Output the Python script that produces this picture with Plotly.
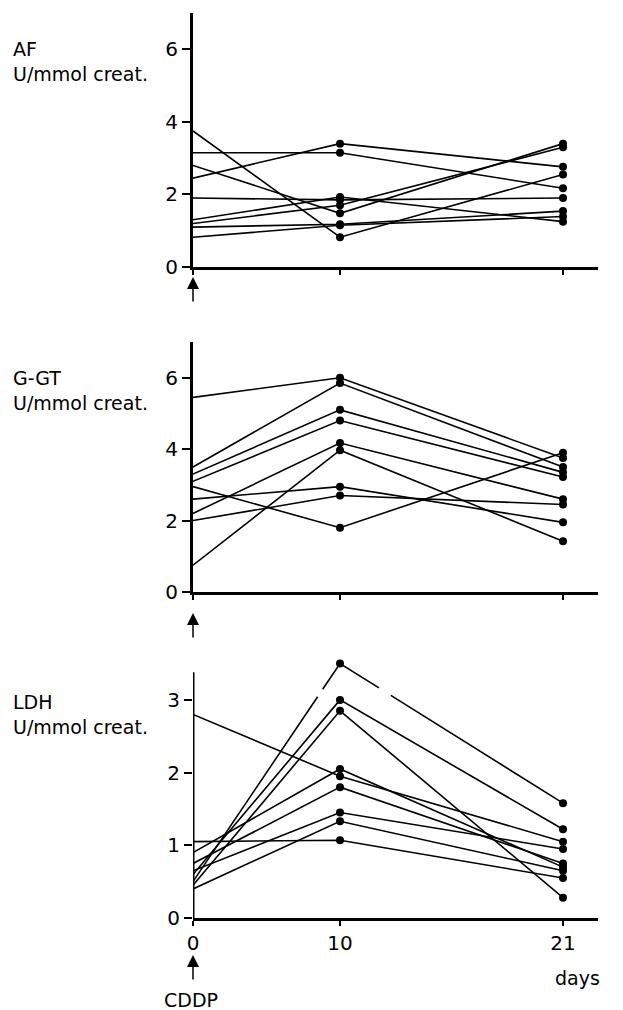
import plotly.graph_objects as go

# ---------------- data ----------------
DAYS = [0, 10, 21]
DAY_TICKS = ["0", "10", "21"]

# AF (U/mmol creat.) per patient at day 0, 10, 21
AF_D0 = [3.75, 3.15, 2.8, 2.45, 1.9, 1.3, 1.2, 1.1, 0.82]
AF_D10 = [0.82, 3.15, 1.48, 3.4, 1.85, 1.93, 1.7, 1.18, 1.15]
AF_D21 = [2.55, 2.17, 3.4, 2.76, 1.9, 1.25, 3.3, 1.54, 1.39]

# G-GT
GGT_D0 = [5.45, 3.5, 3.3, 3.1, 2.95, 2.6, 2.2, 2.0, 0.75]
GGT_D10 = [6.0, 5.85, 5.1, 4.8, 1.8, 2.95, 4.17, 2.7, 3.97]
GGT_D21 = [3.75, 3.5, 3.35, 3.22, 3.9, 1.95, 2.6, 2.45, 1.42]

# LDH
LDH_D0 = [0.5, 0.6, 0.45, 2.8, 0.9, 0.75, 1.05, 0.65, 0.4]
LDH_D10 = [3.5, 3.0, 2.85, 1.95, 2.05, 1.8, 1.07, 1.45, 1.33]
LDH_D21 = [1.58, 1.22, 0.28, 1.05, 0.7, 0.75, 0.55, 0.95, 0.65]

Y_TICKS_TOP = [0, 2, 4, 6]
Y_TICKS_LDH = [0, 1, 2, 3]

# ---------------- styling / layout constants ----------------
# the original x-axis is not linear in days: slot positions of the day ticks
DAY_SLOT = {0: 0.0, 10: 1.0, 21: 2.517}
X_RANGE = [0, 2.755]
FONT = "DejaVu Sans, sans-serif"
W, H = 623, 1010
ML, MR, MT, MB = 193, 25, 10, 92
PH = H - MT - MB


def py(pix):
    """pixel row -> paper y"""
    return (H - MB - pix) / PH


xs = [DAY_SLOT[d] for d in DAYS]
msize = [0, 8, 8]

fig = go.Figure()

panels = [
    ("y", "x", AF_D0, AF_D10, AF_D21),
    ("y2", "x2", GGT_D0, GGT_D10, GGT_D21),
    ("y3", "x3", LDH_D0, LDH_D10, LDH_D21),
]
for yref, xref, d0, d10, d21 in panels:
    for i, (a, b, c) in enumerate(zip(d0, d10, d21)):
        dash = "solid"
        if yref == "y3" and i == 0:
            dash = "223px,9px,77px,14px,600px"
        fig.add_trace(go.Scatter(
            x=xs, y=[a, b, c], xaxis=xref, yaxis=yref,
            mode="lines+markers",
            line=dict(color="black", width=1.6, dash=dash),
            marker=dict(color="black", size=msize, opacity=1,
                        line=dict(width=0, color="black")),
            cliponaxis=False, showlegend=False, hoverinfo="skip",
        ))

axis_common = dict(
    showgrid=False, zeroline=False, showline=True, linecolor="black",
    linewidth=3, ticks="outside", ticklen=8, tickwidth=1.5,
    tickcolor="black", tickfont=dict(family=FONT, size=20, color="black"),
)
x_common = {**axis_common, "ticklen": 5}

xdoms = [0, 1]
fig.update_layout(
    width=W, height=H,
    margin=dict(l=ML, r=MR, t=MT, b=MB),
    paper_bgcolor="white", plot_bgcolor="white",
    font=dict(family=FONT, color="black"),
    xaxis=dict(domain=xdoms, range=X_RANGE, anchor="y", tickvals=xs,
               showticklabels=False, **x_common),
    xaxis2=dict(domain=xdoms, range=X_RANGE, anchor="y2", tickvals=xs,
                showticklabels=False, **x_common),
    xaxis3=dict(domain=xdoms, range=X_RANGE, anchor="y3", tickvals=xs,
                ticktext=DAY_TICKS, **x_common),
    yaxis=dict(domain=[py(267), py(13)], range=[0, 7], anchor="x",
               tickvals=Y_TICKS_TOP, **axis_common),
    yaxis2=dict(domain=[py(592), py(342)], range=[0, 7], anchor="x2",
                tickvals=Y_TICKS_TOP, **axis_common),
    yaxis3=dict(domain=[py(918), py(918 - 3.55 * 72.7)], range=[0, 3.55],
                anchor="x3", tickvals=Y_TICKS_LDH,
                **{**axis_common, "showline": False}),
)

# LDH y-axis line stops below the top data point
fig.add_shape(type="line", xref="x3", yref="y3", x0=0, x1=0, y0=0, y1=3.38,
              line=dict(color="black", width=3))

# panel labels
for txt, pix in [("AF", 61.5), ("G-GT", 390), ("LDH", 714)]:
    fig.add_annotation(
        text=f"{txt}<br>U/mmol creat.", xref="paper", yref="paper",
        x=(11 - ML) / (W - ML - MR), y=py(pix), xanchor="left",
        yanchor="middle", align="left", showarrow=False,
        font=dict(family=FONT, size=19, color="black"),
    )

# CDDP arrows below each panel
for head in [277, 613, 955]:
    fig.add_annotation(
        text="", xref="paper", yref="paper", x=0, y=py(head),
        showarrow=True, ax=0, ay=26, arrowhead=2, arrowsize=1.6,
        arrowwidth=1.5, arrowcolor="black",
    )

fig.add_annotation(text="days", xref="paper", yref="paper",
                   x=(553 - ML) / (W - ML - MR), y=py(978), xanchor="left",
                   yanchor="middle", showarrow=False,
                   font=dict(family=FONT, size=19, color="black"))
fig.add_annotation(text="CDDP", xref="paper", yref="paper",
                   x=(191 - ML) / (W - ML - MR), y=py(1000), xanchor="center",
                   yanchor="middle", showarrow=False,
                   font=dict(family=FONT, size=19, color="black"))

fig.write_html("out.html")
